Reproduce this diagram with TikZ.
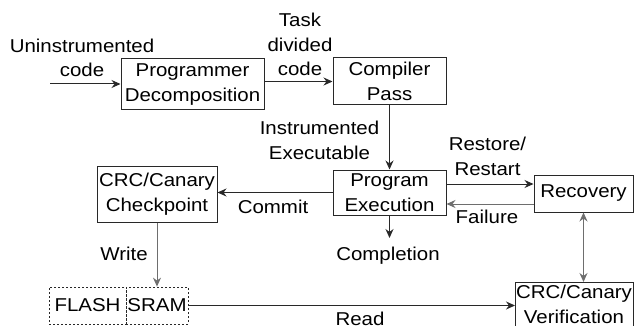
\documentclass[tikz,border=0pt]{standalone}
\usepackage{fontspec}
\setmainfont{Liberation Sans}[FakeStretch=1.1]
\usetikzlibrary{arrows.meta}
\definecolor{lc}{RGB}{40,40,40}
\definecolor{gc}{RGB}{110,110,110}
\begin{document}
\begin{tikzpicture}[x=1pt,y=-1pt,
  every node/.style={font=\fontsize{18.6}{24.5}\selectfont, inner sep=0pt, text=black, align=center},
  box/.style={draw=lc, line width=1pt},
  dbox/.style={draw=lc, line width=0.8pt, dash pattern=on 2pt off 2pt},
  arr/.style={draw=lc, line width=1pt, -{Stealth[length=9pt,width=8pt,inset=3pt]}},
  garr/.style={draw=gc, line width=1pt, -{Stealth[length=9pt,width=8pt,inset=3pt]}},
  lbl/.style={anchor=base}]
\useasboundingbox (0,0) rectangle (634,326);
\begin{scope}
\clip (0,0) rectangle (634,326);
% boxes
\node[box, minimum width=143, minimum height=51] (pd) at (192.5,84.5) {Programmer\\Decomposition};
\node[box, minimum width=113, minimum height=47] (cp) at (389.5,81.5) {Compiler\\Pass};
\node[box, minimum width=113, minimum height=45] (pe) at (389.5,192.5) {Program\\Execution};
\node[box, minimum width=99, minimum height=37] (rec) at (583.5,193.5) {Recovery};
\node[box, minimum width=120, minimum height=56] (ck) at (157,194) {CRC/Canary\\Checkpoint};
\node[dbox, minimum width=77, minimum height=37] (fl) at (87.5,305.5) {FLASH};
\node[dbox, minimum width=62, minimum height=37] (sr) at (157,305.5) {SRAM};
\node[box, minimum width=118, minimum height=60, anchor=north west] (ver) at (515,282) {};
\node[lbl] (vert) at (574,323) {CRC/Canary\\Verification};
% free ends
\coordinate (src) at (50,84);
\coordinate (comp) at (389.5,238);
% connectors
\draw[arr] (src) -- (src -| pd.west);
\draw[arr] (pd.east |- cp.west) -- (cp.west);
\draw[arr] (cp.south) -- (pe.north);
\draw[arr] ([yshift=8.5pt]pe.east) -- ([yshift=8.5pt]pe.east -| rec.west);
\draw[garr] ([yshift=-10.5pt]rec.west) -- ([yshift=-10.5pt]rec.west -| pe.east);
\draw[arr] (pe.west) -- (pe.west -| ck.east);
\draw[arr] (pe.south) -- (comp);
\draw[garr] (ck.south) -- (sr.north);
\draw[arr] (sr.east) -- (sr.east -| ver.west);
\draw[garr, {Stealth[length=9pt,width=8pt,inset=3pt]}-{Stealth[length=9pt,width=8pt,inset=3pt]}] (rec.south) -- (rec.south |- ver.north);
% labels
\node[lbl] (l1) at (82,77) {Uninstrumented\\code};
\node[lbl] (l2) at (300,76) {Task\\divided\\code};
\node[lbl] (l3) at (319.5,159) {Instrumented\\Executable};
\node[lbl] (l4) at (487.5,175) {Restore/\\Restart};
\node[lbl] (l5) at (487,223) {Failure};
\node[lbl] (l6) at (273,213) {Commit};
\node[lbl] (l7) at (388,260) {Completion};
\node[lbl] (l8) at (124,260) {Write};
\node[lbl] (l9) at (360,325) {Read};
\end{scope}
\end{tikzpicture}
\end{document}
